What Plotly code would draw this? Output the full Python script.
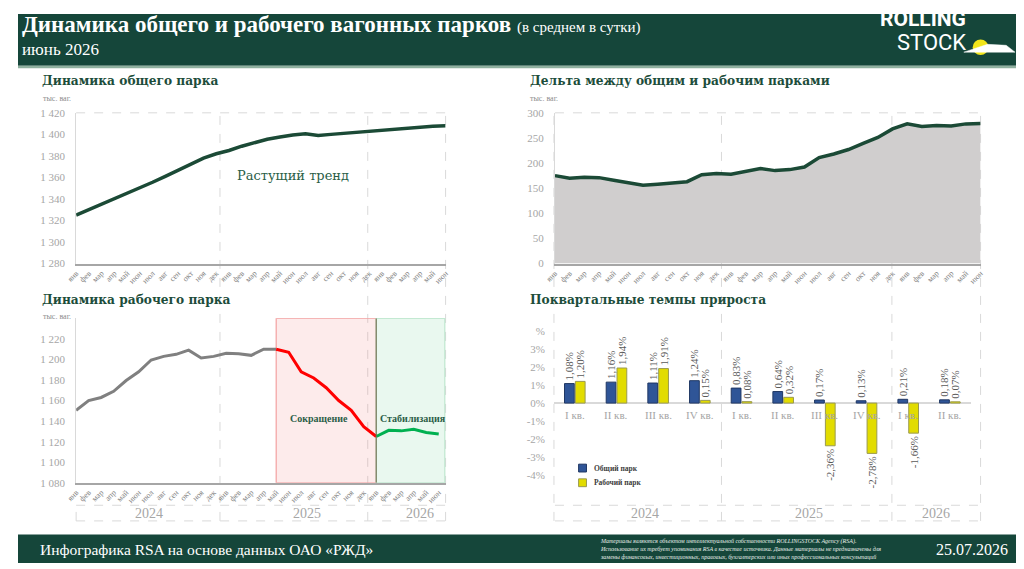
import plotly.graph_objects as go

# окно 1024x569, у страницы поле 8px - рисуем фигуру чуть меньше и сдвигаем координаты
W, H = 1024, 569
PAD = 8
FW, FH = W - PAD, H - PAD

# --- данные ---
month_labels = ["янв", "фев", "мар", "апр", "май", "июн", "июл", "авг", "сен", "окт", "ноя", "дек",
                "янв", "фев", "мар", "апр", "май", "июн", "июл", "авг", "сен", "окт", "ноя", "дек",
                "янв", "фев", "мар", "апр", "май", "июн"]
month_years = [2024] * 12 + [2025] * 12 + [2026] * 6
periods = [m + " " + str(y) for m, y in zip(month_labels, month_years)]

# общий парк, тыс. ваг.
total_fleet = [1325, 1330, 1335, 1340, 1345.5, 1350, 1355.5, 1361, 1366.5, 1372, 1378, 1382,
               1385, 1389, 1392.5, 1395.5, 1397.5, 1399.5, 1400.5, 1399, 1400, 1401, 1402, 1403,
               1404, 1405, 1406, 1406.5, 1407.5, 1408]

# дельта между общим и рабочим парками
delta_fleet = [175, 170, 172, 171, 166, 161, 156, 158, 161, 163, 177, 179,
               178, 183, 189, 185, 187, 192, 211, 218, 227, 239, 251, 268,
               278, 273, 275, 274, 278, 279]

# рабочий парк
working_fleet = [1150.5, 1160, 1163, 1169, 1179.5, 1188, 1199.5, 1203, 1205, 1209, 1201.5, 1203,
                 1206, 1205.5, 1204, 1210, 1210, 1207, 1188, 1182, 1172.5, 1160, 1150.5, 1134.5,
                 1125, 1131, 1130.5, 1132, 1129, 1127.5]
cut_start = "май 2025"
stab_start = "янв 2026"

# поквартальные темпы прироста, %
quarters = ["I кв.", "II кв.", "III кв.", "IV кв.", "I кв.", "II кв.", "III кв.", "IV кв.", "I кв.", "II кв."]
quarter_years = [2024, 2024, 2024, 2024, 2025, 2025, 2025, 2025, 2026, 2026]
quarter_keys = [q + " " + str(y) for q, y in zip(quarters, quarter_years)]
total_growth = [1.08, 1.16, 1.11, 1.24, 0.83, 0.64, 0.17, 0.13, 0.21, 0.18]
working_growth = [1.20, 1.94, 1.91, 0.15, 0.08, 0.32, -2.36, -2.78, -1.66, 0.07]

BLUE = "#2f5597"
YELLOW = "#e2dc00"


def px(x):
    return (x - PAD) / FW


def py(y):
    return 1 - (y - PAD) / FH


def pct(v):
    return ("%.2f%%" % v).replace(".", ",")


GREEN = "#15463a"
LINE_GREEN = "#1b4a36"
TITLE_GREEN = "#1d4d3b"
SERIF = "Liberation Serif"
SERIF2 = "DejaVu Serif"
GRID = "#d9d9d9"
TICK = "#a6a6a6"

i_cut = periods.index(cut_start)
i_stab = periods.index(stab_start)

fig = go.Figure()

# Динамика общего парка
fig.add_trace(go.Scatter(x=periods, y=total_fleet, mode="lines", xaxis="x", yaxis="y",
                         line=dict(color=LINE_GREEN, width=3.5), showlegend=False))

# Дельта
fig.add_trace(go.Scatter(x=periods, y=delta_fleet, mode="lines", xaxis="x2", yaxis="y2",
                         fill="tozeroy", fillcolor="#d0cece",
                         line=dict(color=LINE_GREEN, width=3.5), showlegend=False))

# Рабочий парк: рост / сокращение / стабилизация
fig.add_trace(go.Scatter(x=periods[:i_cut + 1], y=working_fleet[:i_cut + 1], mode="lines",
                         xaxis="x3", yaxis="y3", line=dict(color="#808080", width=3), showlegend=False))
fig.add_trace(go.Scatter(x=periods[i_cut:i_stab + 1], y=working_fleet[i_cut:i_stab + 1], mode="lines",
                         xaxis="x3", yaxis="y3", line=dict(color="#ff0000", width=3), showlegend=False))
fig.add_trace(go.Scatter(x=periods[i_stab:], y=working_fleet[i_stab:], mode="lines",
                         xaxis="x3", yaxis="y3", line=dict(color="#00b050", width=3), showlegend=False))

# Поквартальные темпы
fig.add_trace(go.Bar(x=quarter_keys, y=total_growth, name="Общий парк", xaxis="x4", yaxis="y4",
                     marker=dict(color=BLUE, line=dict(color="#203864", width=1)),
                     text=[pct(v) for v in total_growth], textposition="outside", textangle=-90,
                     constraintext="none", cliponaxis=False, showlegend=False,
                     textfont=dict(family=SERIF, size=11, color="#595959")))
fig.add_trace(go.Bar(x=quarter_keys, y=working_growth, name="Рабочий парк", xaxis="x4", yaxis="y4",
                     marker=dict(color=YELLOW, line=dict(color="#9a9a50", width=1)),
                     text=[pct(v) for v in working_growth], textposition="outside", textangle=-90,
                     constraintext="none", cliponaxis=False, showlegend=False,
                     textfont=dict(family=SERIF, size=11, color="#595959")))

month_axis = dict(tickmode="array", tickvals=periods, ticktext=month_labels, tickangle=-45,
                  tickfont=dict(family=SERIF, size=8, color="#7f7f7f"), showgrid=False,
                  showline=True, linecolor="#a6a6a6", linewidth=2, ticks="", zeroline=False,
                  fixedrange=True)
value_axis = dict(showgrid=False, zeroline=False, showline=True, linecolor=GRID, linewidth=1,
                  ticks="", ticklabelstandoff=8, tickformat=",d",
                  tickfont=dict(family=SERIF, size=11, color=TICK), fixedrange=True)

fig.update_layout(
    width=FW, height=FH,
    margin=dict(l=0, r=0, t=0, b=0),
    paper_bgcolor="white", plot_bgcolor="rgba(0,0,0,0)",
    separators=", ",
    font=dict(family=SERIF),
    barmode="group", bargap=0.48, bargroupgap=0.1,
    showlegend=False,
    xaxis=dict(month_axis, domain=[px(67), px(442)], anchor="y"),
    yaxis=dict(value_axis, domain=[py(263), py(109)], range=[1280, 1420], dtick=20, anchor="x"),
    xaxis2=dict(month_axis, domain=[px(553), px(985)], anchor="y2"),
    yaxis2=dict(value_axis, domain=[py(263), py(109)], range=[0, 300], dtick=50, anchor="x2"),
    xaxis3=dict(month_axis, domain=[px(67), px(442)], anchor="y3"),
    yaxis3=dict(value_axis, domain=[py(487), py(319)], range=[1080, 1240],
                tickmode="array", tickvals=[1080, 1100, 1120, 1140, 1160, 1180, 1200, 1220], anchor="x3"),
    xaxis4=dict(domain=[px(552), px(975)], anchor="y4", showticklabels=False, showgrid=False,
                showline=False, zeroline=False, ticks="", fixedrange=True),
    yaxis4=dict(domain=[py(498), py(328)], range=[-5, 4.2], anchor="x4", showgrid=False,
                zeroline=True, zerolinecolor=GRID, zerolinewidth=2, showline=False, ticks="",
                tickmode="array", tickvals=[-4, -3, -2, -1, 0, 1, 2, 3, 4],
                ticktext=["-4%", "-3%", "-2%", "-1%", "0%", "1%", "2%", "3%", "%"],
                ticklabelstandoff=8, tickfont=dict(family=SERIF, size=11, color=TICK), fixedrange=True),
)

shapes = []
# шапка и подвал
shapes.append(dict(type="rect", xref="paper", yref="paper", x0=0, x1=1, y0=py(61), y1=1,
                   fillcolor=GREEN, line_width=0, layer="below"))
shapes.append(dict(type="rect", xref="paper", yref="paper", x0=0, x1=1, y0=py(63.5), y1=py(61),
                   fillcolor="#8fb09f", line_width=0, layer="below"))
shapes.append(dict(type="rect", xref="paper", yref="paper", x0=0, x1=1, y0=0, y1=py(540),
                   fillcolor=GREEN, line_width=0, layer="below"))

# зоны рабочего парка
shapes.append(dict(type="rect", xref="x3", yref="y3", x0=i_cut, x1=i_stab, y0=1080, y1=1240,
                   fillcolor="rgba(240,120,120,0.15)", line=dict(color="#f2a0a0", width=1.2), layer="below"))
shapes.append(dict(type="rect", xref="x3", yref="y3", x0=i_stab, x1=len(periods) - 0.5, y0=1080, y1=1240,
                   fillcolor="rgba(110,205,150,0.15)", line=dict(color="#b3e3c6", width=1.2), layer="below"))
shapes.append(dict(type="line", xref="x3", yref="y3", x0=i_stab, x1=i_stab, y0=1080, y1=1240,
                   line=dict(color="#6e6e50", width=1)))

# пунктирная сетка годов
dash = dict(color=GRID, width=1, dash="dash")
for xv in [213, 363, 442, 552, 722, 895, 985]:
    shapes.append(dict(type="line", xref="paper", yref="paper", x0=px(xv), x1=px(xv),
                       y0=py(526), y1=py(109), line=dash, layer="below"))
for x0, x1 in [(67, 442), (553, 985)]:
    shapes.append(dict(type="line", xref="paper", yref="paper", x0=px(x0), x1=px(x1),
                       y0=py(109), y1=py(109), line=dash, layer="below"))
    for yv in [510, 526]:
        shapes.append(dict(type="line", xref="paper", yref="paper", x0=px(x0), x1=px(x1),
                           y0=py(yv), y1=py(yv), line=dash, layer="below"))
shapes.append(dict(type="line", xref="paper", yref="paper", x0=px(67), x1=px(67),
                   y0=py(526), y1=py(510), line=dash, layer="below"))

# легенда квартального графика
for yc, col, edge in [(472, BLUE, "#203864"), (487, YELLOW, "#9a9a50")]:
    shapes.append(dict(type="rect", xref="paper", yref="paper", x0=px(577), x1=px(585),
                       y0=py(yc + 4), y1=py(yc - 4), fillcolor=col, line=dict(color=edge, width=1)))

# логотип: солнце и поезд
shapes.append(dict(type="circle", xref="paper", yref="paper", x0=px(977), x1=px(993),
                   y0=py(50), y1=py(34), fillcolor="#f3e61a", line_width=0))
train = "M %f,%f L %f,%f L %f,%f L %f,%f Z" % (px(968), py(47), px(1020), py(47),
                                              px(1011), py(40), px(992), py(39))
shapes.append(dict(type="path", xref="paper", yref="paper", path=train,
                   fillcolor="white", line=dict(color="white", width=0.5)))
fig.update_layout(shapes=shapes)

ann = []


def text(x, y, s, size, color, family=SERIF, xanchor="left", yanchor="middle", **kw):
    ann.append(dict(xref="paper", yref="paper", x=px(x), y=py(y), text=s, showarrow=False,
                    xanchor=xanchor, yanchor=yanchor, font=dict(family=family, size=size, color=color), **kw))


# шапка
text(10, 19, "<b>Динамика общего и рабочего вагонных парков</b> "
             "<span style='font-size:15px'>(в среднем в сутки)</span>", 23, "white")
text(10, 44, "июнь 2026", 17, "white")
text(972, 13, "<b>ROLLING</b>", 21, "white", family="Roboto", xanchor="right")
text(972, 37, "STOCK", 22, "white", family="Roboto", xanchor="right")

# заголовки графиков
text(30, 76, "<b>Динамика общего парка</b>", 12.2, TITLE_GREEN, family=SERIF2)
text(526, 76, "<b>Дельта между общим и рабочим парками</b>", 12.2, TITLE_GREEN, family=SERIF2)
text(30, 300, "<b>Динамика рабочего парка</b>", 12.2, TITLE_GREEN, family=SERIF2)
text(526, 300, "<b>Поквартальные темпы прироста</b>", 12.2, TITLE_GREEN, family=SERIF2)
text(31, 94, "тыс. ваг.", 8, "#8c8c8c")
text(526, 94, "тыс. ваг.", 8, "#8c8c8c")
text(31, 317, "тыс. ваг.", 8, "#8c8c8c")

text(287, 173, "Растущий тренд", 13, "#2b5e47", family=SERIF2, xanchor="center")
text(314, 421, "<b>Сокращение</b>", 10, "#2b5e47", xanchor="center")
text(409, 421, "<b>Стабилизация</b>", 10, "#2b5e47", xanchor="center")

# легенда
text(591, 472, "<b>Общий парк</b>", 7.5, "#404040")
text(591, 487, "<b>Рабочий парк</b>", 7.5, "#404040")

# годы
for x, s in [(141, "2024"), (301, "2025"), (416, "2026"), (644, "2024"), (811, "2025"), (940, "2026")]:
    text(x, 518, s, 14, TICK, xanchor="center")

# подписи кварталов у нулевой линии
for k, q in zip(quarter_keys, quarters):
    ann.append(dict(xref="x4", yref="y4", x=k, y=-0.66, text=q, showarrow=False,
                    font=dict(family=SERIF, size=11, color=TICK)))

# подвал
text(28, 555, "Инфографика RSA на основе данных ОАО «РЖД»", 15.5, "white")
text(597, 555, "<i>Материалы являются объектом интеллектуальной собственности ROLLINGSTOCK Agency (RSA).<br>"
               "Использование их требует упоминания RSA в качестве источника. Данные материалы не предназначены для<br>"
               "замены финансовых, инвестиционных, правовых, бухгалтерских или иных профессиональных консультаций</i>",
     6, "#e8eee9", align="left")
text(1015, 555, "25.07.2026", 16, "white", xanchor="right")

fig.update_layout(annotations=ann)

fig.write_html("out.html")
